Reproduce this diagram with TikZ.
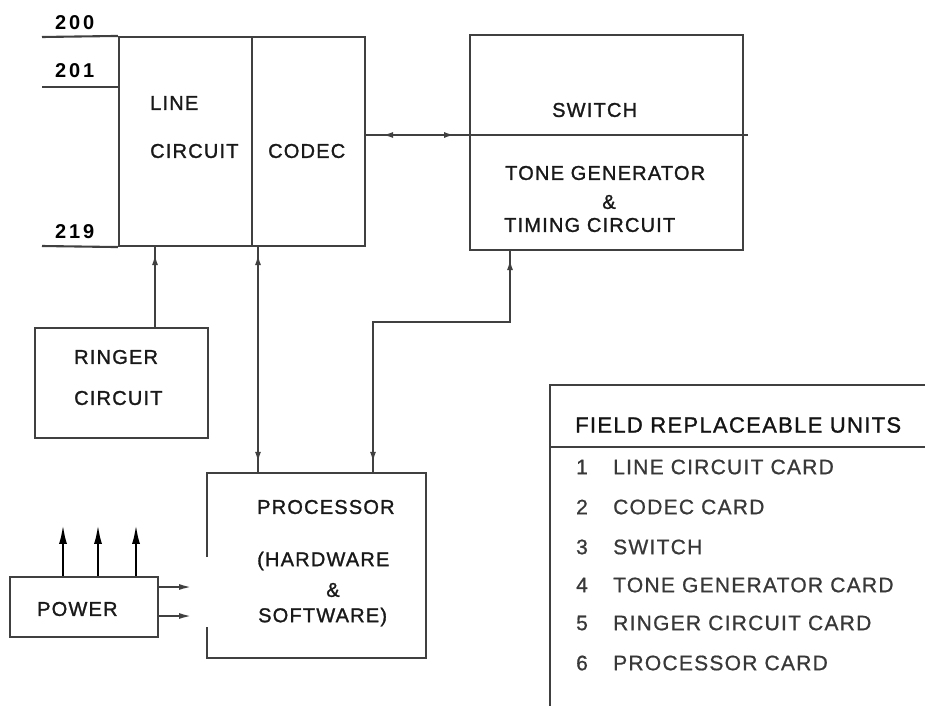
\documentclass[tikz,border=0pt]{standalone}
\usepackage{fontspec}
\setmainfont{Liberation Sans}[LetterSpace=6]
\usetikzlibrary{arrows.meta,decorations.markings}
\begin{document}
\begin{tikzpicture}[x=1pt,y=-1pt,
  ink/.style={draw=black!75, line width=2.1pt},
  blk/.style={ink, rectangle, inner sep=0pt},
  lbl/.style={text=black!90, font=\fontsize{20}{24}\selectfont\addfontfeatures{FakeBold=1.3}, inner sep=0pt, anchor=west},
  clbl/.style={lbl, anchor=center},
  numlbl/.style={text=black, font=\fontsize{20}{24}\selectfont\bfseries\addfontfeatures{LetterSpace=14}, inner sep=0pt, anchor=west},
  hdr/.style={text=black!92, font=\fontsize{22}{26}\selectfont\addfontfeatures{FakeBold=1.3}, inner sep=0pt, anchor=west},
  item/.style={text=black!78, font=\fontsize{21}{25}\selectfont\addfontfeatures{FakeBold=0.8}, inner sep=0pt, anchor=west},
  inum/.style={item, anchor=center},
  tipF/.style={postaction={decorate,decoration={markings,mark=at position #1 with {\arrow{Latex[length=11pt,width=6pt]}}}}},
  tipR/.style={postaction={decorate,decoration={markings,mark=at position #1 with {\arrowreversed{Latex[length=11pt,width=6pt]}}}}},
  pwr/.style={draw=black, line width=2.6pt, -{Latex[length=20pt,width=8pt]}},
  pwrside/.style={ink, -{Latex[length=13pt,width=6pt]}}
]
\useasboundingbox (0,0) rectangle (925,706);

% blocks
\node[blk, minimum width=133pt, minimum height=209pt] (lc) at (185.5,141.5) {};
\node[blk, minimum width=113pt, minimum height=209pt] (codec) at (308.5,141.5) {};
\node[blk, minimum width=273pt, minimum height=215pt] (sw) at (606.5,142.5) {};
\node[blk, minimum width=173pt, minimum height=110pt] (ringer) at (121.5,383) {};
\node[rectangle, inner sep=0pt, minimum width=219pt, minimum height=185pt] (proc) at (316.5,565.5) {};
\node[blk, minimum width=148pt, minimum height=60pt] (power) at (84,607) {};

% processor outline (left side open where the power leads arrive)
\draw[ink] ([yshift=8.5pt]proc.west) -- (proc.north west) -- (proc.north east) -- (proc.south east) -- (proc.south west) -- ([yshift=-61.5pt]proc.west);

% subscriber lines
\coordinate (t200) at (42,37);
\coordinate (t201) at (42,87);
\coordinate (t219) at (42,246);
\draw[ink] (t200) -- (lc.north west);
\draw[ink] (t201) -- (lc.west |- t201);
\draw[ink] (t219) -- (lc.south west);
\node[numlbl] (n200) at (55,23) {200};
\node[numlbl] (n201) at (55,71) {201};
\node[numlbl] (n219) at (55,232) {219};

% switch divider and codec link
\coordinate (div) at (470,135);
\coordinate (divE) at (748,135);
\draw[ink] (div) -- (divE);
\draw[ink, tipR=16pt, tipF=-15pt] (codec.east |- div) -- (div);

% block texts
\node[lbl] (tline) at (150,103) {LINE};
\node[lbl] (tcirc) at (150,151) {CIRCUIT};
\node[lbl] (tcodec) at (268,151) {CODEC};
\node[lbl] (tswitch) at (552,110) {SWITCH};
\node[lbl] (ttone) at (505,173) {TONE GENERATOR};
\node[clbl] (tamp1) at (609,202) {\&};
\node[lbl] (ttiming) at (504,225) {TIMING CIRCUIT};
\node[lbl] (tring) at (74,357) {RINGER};
\node[lbl] (tringc) at (74,398) {CIRCUIT};
\node[lbl] (tproc) at (257,507) {PROCESSOR};
\node[lbl] (thw) at (257,561) {(HARDWARE};
\node[clbl] (tamp2) at (333,590) {\&};
\node[lbl] (tsw) at (258,617) {SOFTWARE)};
\node[lbl] (tpower) at (37,609) {POWER};

% connectors
\draw[ink, tipF=-7pt] ([xshift=33.5pt]ringer.north) -- ([xshift=33.5pt]ringer.north |- lc.south);
\draw[ink, tipF=-7pt, tipR=10pt] ([xshift=-58.5pt]proc.north) -- ([xshift=-58.5pt]proc.north |- codec.south);
\coordinate (bend) at (373,322);
\draw[ink, tipR=8pt, tipF=-10pt] ([xshift=-96.5pt]sw.south) |- (bend) -- (bend |- proc.north);

% power outputs
\draw[pwr] ([xshift=-21pt]power.north) -- ++(0,-52);
\draw[pwr] ([xshift=14pt]power.north) -- ++(0,-52);
\draw[pwr] ([xshift=52pt]power.north) -- ++(0,-52);
\draw[pwrside] ([yshift=20pt]power.east) -- ++(33,0);
\draw[pwrside] ([yshift=-9pt]power.east) -- ++(33,0);

% table of field replaceable units
\coordinate (tTL) at (550,385);
\coordinate (tTR) at (925,385);
\coordinate (tBL) at (550,706);
\coordinate (hL) at (550,447);
\coordinate (hR) at (925,447);
\draw[ink] (tTR) -- (tTL) -- (tBL);
\draw[ink] (hL) -- (hR);
\node[hdr] (thdr) at (575,425) {FIELD REPLACEABLE UNITS};
\node[inum] (i1) at (582,467) {1};
\node[item] (r1) at (613,467) {LINE CIRCUIT CARD};
\node[inum] (i2) at (582,507) {2};
\node[item] (r2) at (613,507) {CODEC CARD};
\node[inum] (i3) at (582,547) {3};
\node[item] (r3) at (613,547) {SWITCH};
\node[inum] (i4) at (582,585) {4};
\node[item] (r4) at (613,585) {TONE GENERATOR CARD};
\node[inum] (i5) at (582,623) {5};
\node[item] (r5) at (613,623) {RINGER CIRCUIT CARD};
\node[inum] (i6) at (582,663) {6};
\node[item] (r6) at (613,663) {PROCESSOR CARD};
\end{tikzpicture}
\end{document}
